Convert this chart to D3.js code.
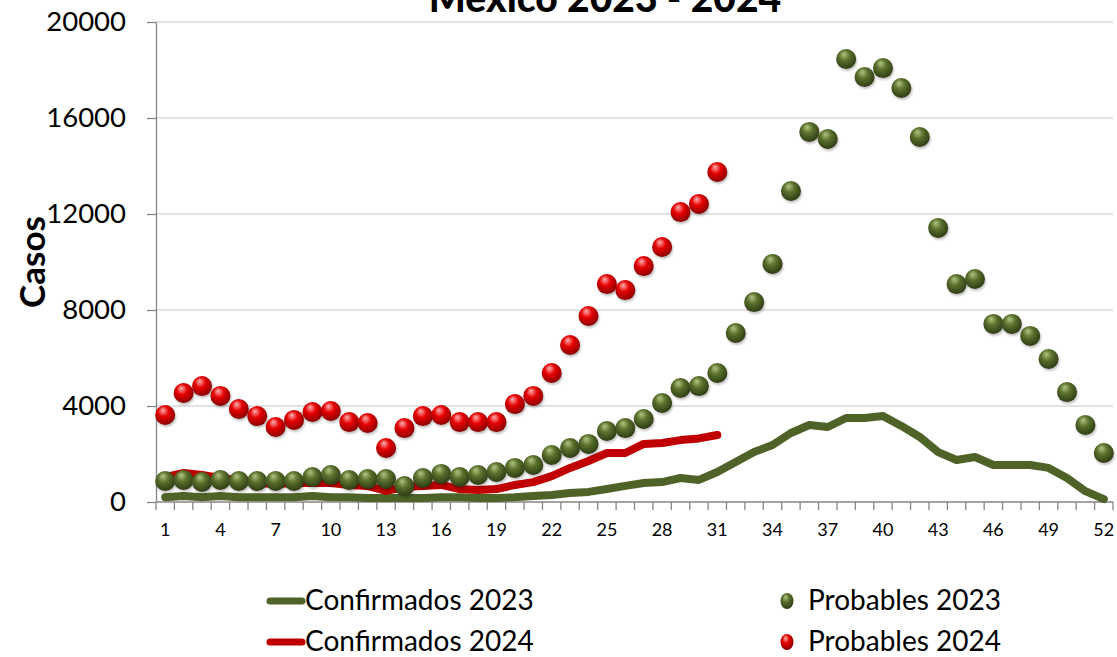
<!DOCTYPE html>
<meta charset="utf-8">
<style>
body { margin: 0; background: #fff; }
text { font-family: 'Lato', sans-serif; fill: #000; }
.grid line { stroke: #d9d9d9; stroke-width: 1.3; }
.axis path, .axis line { stroke: #868686; stroke-width: 1.3; }
</style>
<body>
<svg width="1117" height="657"></svg>
<script src="https://d3js.org/d3.v7.min.js"></script>
<script>
// weeks 1..52
var weeks = d3.range(1, 53);
var xTicks = [1, 4, 7, 10, 13, 16, 19, 22, 25, 28, 31, 34, 37, 40, 43, 46, 49, 52];
var yTicks = [0, 4000, 8000, 12000, 16000, 20000];

// values
var confirmados2023 = [200, 250, 200, 250, 200, 200, 200, 200, 250, 200, 200, 170, 170, 170, 170, 200, 200, 170, 170, 200,
  250, 290, 375, 420, 540, 670, 790, 830, 1000, 920, 1250, 1670, 2080, 2375, 2875, 3210, 3125, 3500, 3500, 3580,
  3170, 2710, 2080, 1750, 1875, 1540, 1540, 1540, 1420, 1000, 450, 120];
var confirmados2024 = [1040, 1210, 1125, 1000, 920, 790, 750, 790, 790, 790, 710, 670, 460, 625, 670, 710, 540, 500, 540, 710,
  830, 1080, 1420, 1710, 2040, 2040, 2420, 2460, 2580, 2650, 2790];
var probables2023 = [875, 917, 833, 917, 875, 875, 875, 875, 1040, 1125, 917, 958, 958, 667, 1000, 1170, 1040, 1125, 1250, 1420,
  1540, 1960, 2250, 2420, 2960, 3080, 3460, 4125, 4750, 4830, 5375, 7040, 8330, 9920, 12960, 15420, 15125, 18460, 17710, 18080,
  17250, 15210, 11420, 9080, 9290, 7420, 7420, 6920, 5960, 4580, 3210, 2040];
var probables2024 = [3625, 4540, 4830, 4420, 3875, 3580, 3125, 3420, 3750, 3790, 3330, 3290, 2250, 3080, 3580, 3625, 3330, 3330, 3330, 4080,
  4420, 5375, 6540, 7750, 9080, 8830, 9830, 10625, 12080, 12420, 13750];

var svg = d3.select("svg");
var margin = {left: 156, right: 4, top: 22, bottom: 155};
var W = 1117, H = 657;

var x = d3.scaleBand().domain(weeks).range([margin.left, W - margin.right]);
var y = d3.scaleLinear().domain([0, 20000]).range([H - margin.bottom, margin.top]);
var cx = function(w) { return x(w) + x.bandwidth() / 2; };

// gradients for the sphere markers
var defs = svg.append("defs");
function sphere(id, hi, mid, edge) {
  var g = defs.append("radialGradient").attr("id", id)
    .attr("cx", "45%").attr("cy", "40%").attr("r", "60%")
    .attr("fx", "38%").attr("fy", "25%");
  g.append("stop").attr("offset", "0%").attr("stop-color", hi);
  g.append("stop").attr("offset", "45%").attr("stop-color", mid);
  g.append("stop").attr("offset", "100%").attr("stop-color", edge);
}
sphere("gGreen", "#b3c482", "#5a702c", "#2f3c14");
sphere("gRed", "#ffb0b0", "#e60000", "#8a0000");
var blur = defs.append("filter").attr("id", "shadow").attr("x", "-50%").attr("y", "-50%").attr("width", "200%").attr("height", "200%");
blur.append("feGaussianBlur").attr("stdDeviation", 1.2);

// gridlines
svg.append("g").attr("class", "grid")
  .selectAll("line").data(yTicks.slice(1)).enter().append("line")
  .attr("x1", margin.left).attr("x2", W - margin.right)
  .attr("y1", function(d) { return y(d); }).attr("y2", function(d) { return y(d); });

// y axis
var yAxis = svg.append("g").attr("class", "axis")
  .attr("transform", "translate(" + margin.left + ",0)")
  .call(d3.axisLeft(y).tickValues(yTicks).tickSize(9).tickSizeOuter(0).tickPadding(21).tickFormat(d3.format("d")));
yAxis.selectAll("text").style("font-size", "27.5px").style("font-family", "Lato");

// x axis: ticks between categories
var xAxis = svg.append("g").attr("class", "axis")
  .attr("transform", "translate(0," + y(0) + ")");
xAxis.append("line").attr("x1", margin.left).attr("x2", W - margin.right);
xAxis.selectAll(".tk").data(weeks.concat([53])).enter().append("line")
  .attr("x1", function(d) { return d <= 52 ? x(d) : x(52) + x.bandwidth(); })
  .attr("x2", function(d) { return d <= 52 ? x(d) : x(52) + x.bandwidth(); })
  .attr("y1", 0).attr("y2", 8);
xAxis.selectAll(".lbl").data(xTicks).enter().append("text")
  .attr("x", function(d) { return cx(d); }).attr("y", 34)
  .attr("text-anchor", "middle").style("font-size", "18px")
  .text(function(d) { return d; });

// lines
var line = d3.line().x(function(d, i) { return cx(weeks[i]); }).y(function(d) { return y(d); });
svg.append("path").datum(confirmados2023).attr("d", line)
  .attr("fill", "none").attr("stroke", "#4f6228").attr("stroke-width", 8).attr("stroke-linejoin", "round").attr("stroke-linecap", "round");
svg.append("path").datum(confirmados2024).attr("d", line)
  .attr("fill", "none").attr("stroke", "#c00000").attr("stroke-width", 8).attr("stroke-linejoin", "round").attr("stroke-linecap", "round");

// dots
function dots(data, grad) {
  var g = svg.append("g");
  g.selectAll(".sh").data(data).enter().append("circle")
    .attr("cx", function(d, i) { return cx(weeks[i]) + 1; })
    .attr("cy", function(d) { return y(d) + 2; })
    .attr("r", 10).attr("fill", "rgba(0,0,0,0.25)").attr("filter", "url(#shadow)");
  g.selectAll(".dot").data(data).enter().append("circle")
    .attr("cx", function(d, i) { return cx(weeks[i]); })
    .attr("cy", function(d) { return y(d); })
    .attr("r", 10).attr("fill", "url(#" + grad + ")");
}
dots(probables2023, "gGreen");
dots(probables2024, "gRed");

// title (cut at top like the original)
svg.append("text").attr("x", 605).attr("y", 12).attr("text-anchor", "middle")
  .style("font-size", "39px").style("font-weight", "900").text("México 2023 - 2024");

// y axis title
svg.append("text").attr("transform", "translate(45,262) rotate(-90)").attr("text-anchor", "middle")
  .style("font-size", "35px").style("font-weight", "bold").text("Casos");

// legend
var legend = [
  {name: "Confirmados 2023", type: "line", color: "#4f6228", x: 267, y: 601},
  {name: "Confirmados 2024", type: "line", color: "#c00000", x: 267, y: 642},
  {name: "Probables 2023", type: "dot", grad: "gGreen", x: 787, y: 601},
  {name: "Probables 2024", type: "dot", grad: "gRed", x: 787, y: 642}
];
legend.forEach(function(l) {
  if (l.type === "line") {
    svg.append("line").attr("x1", l.x + 3).attr("x2", l.x + 35).attr("y1", l.y).attr("y2", l.y)
      .attr("stroke", l.color).attr("stroke-width", 7).attr("stroke-linecap", "round");
    svg.append("text").attr("x", l.x + 38).attr("y", l.y + 9).style("font-size", "28px").text(l.name);
  } else {
    svg.append("ellipse").attr("cx", l.x).attr("cy", l.y).attr("rx", 6.5).attr("ry", 8).attr("fill", "url(#" + l.grad + ")");
    svg.append("text").attr("x", l.x + 21).attr("y", l.y + 9).style("font-size", "28px").text(l.name);
  }
});
</script>
